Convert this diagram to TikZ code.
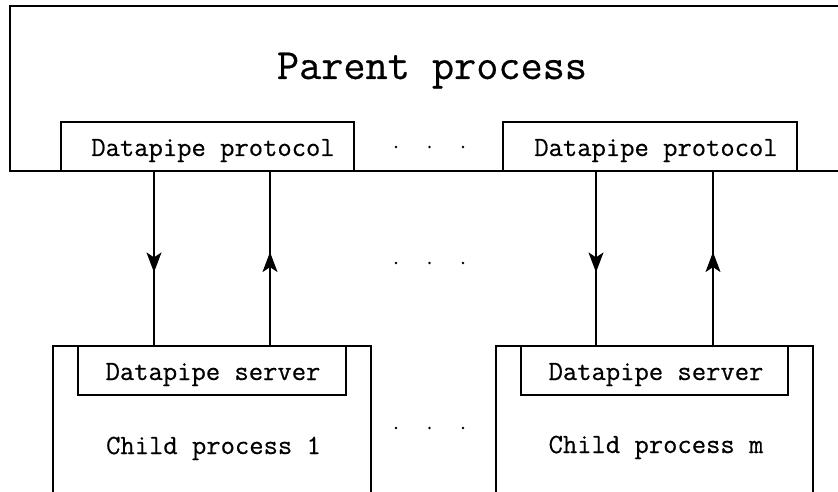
\documentclass[tikz,border=0pt]{standalone}
\usepackage{fontspec}
\newfontfamily\dpmono{Latin Modern Mono}[FakeBold=0.5]
\usetikzlibrary{arrows.meta,decorations.markings}
\begin{document}
\begin{tikzpicture}[x=1pt,y=-1pt,line width=1.3pt,
  box/.style={draw,rectangle,inner sep=0pt,fill=white},
  big/.style={font=\dpmono\fontsize{43}{48}\selectfont,anchor=base,inner sep=0pt},
  lbl/.style={font=\dpmono\fontsize{27.8}{32}\selectfont,anchor=base,inner sep=0pt},
  flow/.style={postaction={decorate},decoration={markings,mark=at position #1 with {\arrow{Stealth[length=20pt,width=15pt,inset=5pt]}}}},
  pdot/.style={circle,fill,inner sep=0pt,minimum size=2.6pt}]
\useasboundingbox (0,0) rectangle (838,492);
% parent process (open at the right)
\coordinate (parTR) at (842,6);
\coordinate (parTL) at (10,6);
\coordinate (parBL) at (10,171);
\coordinate (parBR) at (842,171);
\draw (parTR) -- (parTL) -- (parBL) -- (parBR);
\node[big] (partext) at (432,79) {Parent process};
% protocol boxes
\node[box,minimum width=293pt,minimum height=49pt] (prot1) at (207.5,146.5) {};
\node[box,minimum width=294pt,minimum height=49pt] (prot2) at (650,146.5) {};
\node[lbl] (prot1t) at (213,156) {Datapipe protocol};
\node[lbl] (prot2t) at (656,156) {Datapipe protocol};
% child boxes (open at the bottom)
\coordinate (c1bl) at (53,495);
\coordinate (c1tl) at (53,346);
\coordinate (c1tr) at (371,346);
\coordinate (c1br) at (371,495);
\draw (c1bl) -- (c1tl) -- (c1tr) -- (c1br);
\coordinate (c2bl) at (496,495);
\coordinate (c2tl) at (496,346);
\coordinate (c2tr) at (813,346);
\coordinate (c2br) at (813,495);
\draw (c2bl) -- (c2tl) -- (c2tr) -- (c2br);
% server boxes
\node[box,minimum width=268pt,minimum height=49pt] (serv1) at (212,370.5) {};
\node[box,minimum width=267pt,minimum height=49pt] (serv2) at (654.5,370.5) {};
\node[lbl] (serv1t) at (213,380) {Datapipe server};
\node[lbl] (serv2t) at (656,380) {Datapipe server};
\node[lbl] (child1t) at (213.5,454) {Child process 1};
\node[lbl] (child2t) at (656,453) {Child process m};
% connectors
\coordinate (a1) at (154,0);
\coordinate (a2) at (270,0);
\coordinate (a3) at (596,0);
\coordinate (a4) at (713,0);
\draw[flow=0.58] (prot1.south -| a1) -- (serv1.north -| a1);
\draw[flow=0.537] (serv1.north -| a2) -- (prot1.south -| a2);
\draw[flow=0.58] (prot2.south -| a3) -- (serv2.north -| a3);
\draw[flow=0.537] (serv2.north -| a4) -- (prot2.south -| a4);
% ellipsis dots
\foreach \r/\yy in {1/147,2/263,3/428}{
  \foreach \c/\xx in {1/396,2/429.5,3/463}{
    \node[pdot] (dot\r\c) at (\xx,\yy) {};
  }
}
\end{tikzpicture}
\end{document}
